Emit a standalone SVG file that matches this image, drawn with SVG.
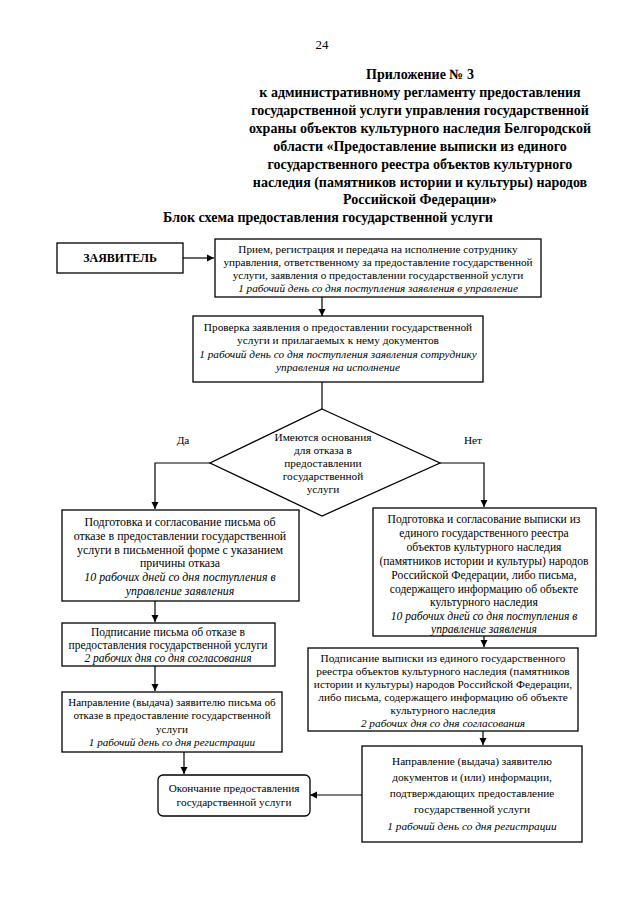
<svg xmlns="http://www.w3.org/2000/svg" width="640" height="905" viewBox="0 0 640 905">
<defs>
<marker id="ah" markerWidth="8" markerHeight="8" refX="7" refY="4" orient="auto" markerUnits="userSpaceOnUse">
<path d="M0,0.5 L7,4 L0,7.5 Z" fill="#000"/>
</marker>
<style>
.box{fill:#fff;stroke:#000;stroke-width:1.3}
.t{font-family:"Liberation Serif","Times New Roman",serif;font-size:11.3px;text-anchor:middle;fill:#000}
.i{font-style:italic}
.h{font-family:"Liberation Serif","Times New Roman",serif;font-size:14px;font-weight:bold;text-anchor:middle;fill:#000}
.c{fill:none;stroke:#000;stroke-width:1.2}
</style>
</defs>
<rect width="640" height="905" fill="#fff"/>
<text x="322" y="49" class="t" style="font-size:13px">24</text>
<g id="header">
<text class="h" x="420" y="79">Приложение № 3</text>
<text class="h" x="420" y="97">к административному регламенту предоставления</text>
<text class="h" x="420" y="115">государственной услуги управления государственной</text>
<text class="h" x="420" y="133">охраны объектов культурного наследия Белгородской</text>
<text class="h" x="420" y="151">области «Предоставление выписки из единого</text>
<text class="h" x="420" y="169">государственного реестра объектов культурного</text>
<text class="h" x="420" y="187">наследия (памятников истории и культуры) народов</text>
<text class="h" x="420" y="204">Российской Федерации»</text>
<text class="h" x="328" y="222">Блок схема предоставления государственной услуги</text>
</g>
<g id="connectors">
<line class="c" x1="183" y1="258" x2="214" y2="258" marker-end="url(#ah)"/>
<line class="c" x1="322" y1="297" x2="322" y2="316" marker-end="url(#ah)"/>
<line class="c" x1="322" y1="382" x2="322" y2="409"/>
<polyline class="c" points="210,463 155,463 155,509" marker-end="url(#ah)"/>
<polyline class="c" points="440,463 484,463 484,507" marker-end="url(#ah)"/>
<line class="c" x1="155" y1="601" x2="155" y2="622" marker-end="url(#ah)"/>
<line class="c" x1="155" y1="666" x2="155" y2="691" marker-end="url(#ah)"/>
<line class="c" x1="184" y1="752" x2="184" y2="774" marker-end="url(#ah)"/>
<line class="c" x1="484" y1="636" x2="484" y2="647" marker-end="url(#ah)"/>
<line class="c" x1="483" y1="731" x2="483" y2="745" marker-end="url(#ah)"/>
<line class="c" x1="362" y1="795" x2="310" y2="795" marker-end="url(#ah)"/>
</g>
<g id="applicant">
<rect class="box" x="57" y="243" width="126" height="30"/>
<text class="t" x="120" y="262" style="font-weight:bold;font-size:12px">ЗАЯВИТЕЛЬ</text>
</g>
<g id="reception">
<rect class="box" x="215" y="239" width="326" height="58"/>
<text class="t" x="378" y="253" style="font-size:11.2px">Прием, регистрация и передача на исполнение сотруднику</text>
<text class="t" x="378" y="266" style="font-size:11.2px">управления, ответственному за предоставление государственной</text>
<text class="t" x="378" y="279" style="font-size:11.2px">услуги, заявления о предоставлении государственной услуги</text>
<text class="t i" x="378" y="292" style="font-size:11.2px">1 рабочий день со дня поступления заявления в управление</text>
</g>
<g id="check">
<rect class="box" x="193" y="316" width="290" height="66"/>
<text class="t" x="338" y="331">Проверка заявления о предоставлении государственной</text>
<text class="t" x="338" y="344">услуги и прилагаемых к нему документов</text>
<text class="t i" x="338" y="358">1 рабочий день со дня поступления заявления сотруднику</text>
<text class="t i" x="338" y="371">управления на исполнение</text>
</g>
<g id="decision">
<polygon class="box" points="322,409 440,463 322,516 210,463"/>
<text class="t" x="323" y="441">Имеются основания</text>
<text class="t" x="323" y="454">для отказа в</text>
<text class="t" x="323" y="467">предоставлении</text>
<text class="t" x="323" y="480">государственной</text>
<text class="t" x="323" y="493">услуги</text>
<text class="t" x="183" y="444">Да</text>
<text class="t" x="473" y="444">Нет</text>
</g>
<g id="refusal-prep">
<rect class="box" x="62" y="510" width="237" height="91"/>
<text class="t" x="180" y="526" style="font-size:11.9px">Подготовка и согласование письма об</text>
<text class="t" x="180" y="540" style="font-size:11.9px">отказе в предоставлении государственной</text>
<text class="t" x="180" y="554" style="font-size:11.9px">услуги в письменной форме с указанием</text>
<text class="t" x="180" y="567" style="font-size:11.9px">причины отказа</text>
<text class="t i" x="180" y="581" style="font-size:11.9px">10 рабочих дней со дня поступления в</text>
<text class="t i" x="180" y="595" style="font-size:11.9px">управление заявления</text>
</g>
<g id="extract-prep">
<rect class="box" x="373" y="508" width="223" height="128"/>
<text class="t" x="484" y="523" style="font-size:11.6px">Подготовка и согласование выписки из</text>
<text class="t" x="484" y="537" style="font-size:11.6px">единого государственного реестра</text>
<text class="t" x="484" y="551" style="font-size:11.6px">объектов культурного наследия</text>
<text class="t" x="484" y="565" style="font-size:11.6px">(памятников истории и культуры) народов</text>
<text class="t" x="484" y="579" style="font-size:11.6px">Российской Федерации, либо письма,</text>
<text class="t" x="484" y="593" style="font-size:11.6px">содержащего информацию об объекте</text>
<text class="t" x="484" y="606" style="font-size:11.6px">культурного наследия</text>
<text class="t i" x="484" y="620" style="font-size:11.6px">10 рабочих дней со дня поступления в</text>
<text class="t i" x="484" y="633" style="font-size:11.6px">управление заявления</text>
</g>
<g id="refusal-sign">
<rect class="box" x="62" y="623" width="213" height="43"/>
<text class="t" x="168" y="636" style="font-size:11.5px">Подписание письма об отказе в</text>
<text class="t" x="168" y="649" style="font-size:11.5px">предоставления государственной услуги</text>
<text class="t i" x="168" y="662" style="font-size:11.5px">2 рабочих дня со дня согласования</text>
</g>
<g id="refusal-issue">
<rect class="box" x="62" y="692" width="220" height="60"/>
<text class="t" x="172" y="706" style="font-size:11.1px">Направление (выдача) заявителю письма об</text>
<text class="t" x="172" y="719" style="font-size:11.1px">отказе в предоставление государственной</text>
<text class="t" x="172" y="733" style="font-size:11.1px">услуги</text>
<text class="t i" x="172" y="746" style="font-size:11.1px">1 рабочий день со дня регистрации</text>
</g>
<g id="extract-sign">
<rect class="box" x="308" y="648" width="270" height="83"/>
<text class="t" x="443" y="662">Подписание выписки из единого государственного</text>
<text class="t" x="443" y="675">реестра объектов культурного наследия (памятников</text>
<text class="t" x="443" y="688">истории и культуры) народов Российской Федерации,</text>
<text class="t" x="443" y="701">либо письма, содержащего информацию об объекте</text>
<text class="t" x="443" y="714">культурного наследия</text>
<text class="t i" x="443" y="727">2 рабочих дня со дня согласования</text>
</g>
<g id="extract-issue">
<rect class="box" x="362" y="746" width="220" height="96"/>
<text class="t" x="472" y="765">Направление (выдача) заявителю</text>
<text class="t" x="472" y="781">документов и (или) информации,</text>
<text class="t" x="472" y="797">подтверждающих предоставление</text>
<text class="t" x="472" y="813">государственной услуги</text>
<text class="t i" x="472" y="830">1 рабочий день со дня регистрации</text>
</g>
<g id="end">
<rect class="box" x="158" y="775" width="152" height="41" rx="5"/>
<text class="t" x="234" y="792" style="font-size:11.2px">Окончание предоставления</text>
<text class="t" x="234" y="806" style="font-size:11.2px">государственной услуги</text>
</g>
</svg>
